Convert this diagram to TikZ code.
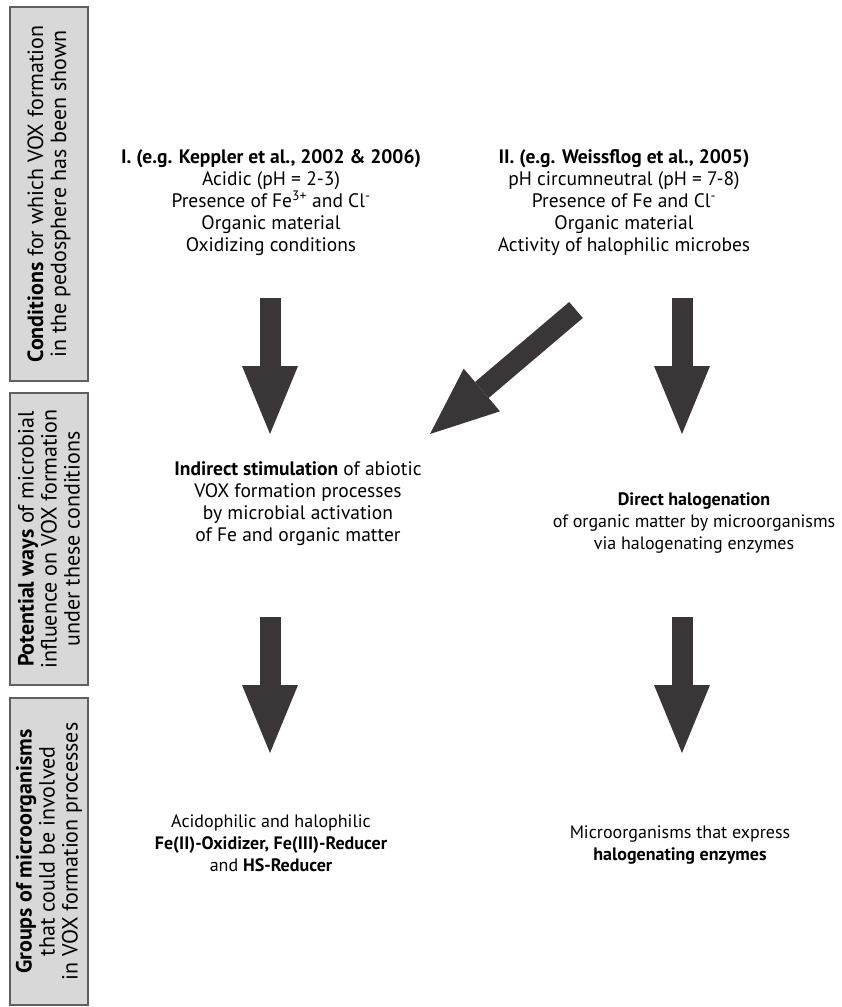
\documentclass[tikz,border=0pt]{standalone}
\usepackage{fontspec}
\setmainfont{PT Sans}
\usepackage{tikz}
\usetikzlibrary{arrows.meta, positioning}

\definecolor{arrowgray}{RGB}{58,54,55}
\definecolor{boxgray}{RGB}{216,216,216}
\definecolor{boxline}{RGB}{95,95,95}

\begin{document}
\begin{tikzpicture}[x=1pt,y=-1pt]
\tikzstyle{fatarrow}=[draw=arrowgray, line width=21pt, -{Triangle[length=68pt,width=56pt,line width=0pt 0 0]}]
\tikzstyle{sidebox}=[draw=boxline, fill=boxgray, line width=1.6pt, rotate=90, align=center,
                     inner sep=0pt, minimum height=78pt, font=\fontsize{22}{23}\selectfont]
\tikzstyle{txt}=[align=center, inner sep=0pt, font=\fontsize{19.5}{22}\selectfont]
\tikzstyle{smalltxt}=[txt, font=\fontsize{18}{22}\selectfont]

        \useasboundingbox (0,0) rectangle (842,1007);

        % left column boxes
        \node[sidebox, minimum width=374pt]  (cond)   at (49,194)  {\textbf{Conditions} for which VOX formation\\in the pedosphere has been shown};
        \node[sidebox, minimum width=292pt]  (ways)   at (49,539)  {\textbf{Potential ways} of microbial\\influence on VOX formation\\under these conditions};
        \node[sidebox, minimum width=307pt]  (groups) at (49,851.5){\textbf{Groups of microorganisms}\\that could be involved\\in VOX formation processes};

        % conditions
        \node[txt]  (condI)   at (271,203)  {\textbf{I. (e.g. Keppler et al., 2002 \& 2006)}\\Acidic (pH = 2-3)\\Presence of Fe\textsuperscript{3+} and Cl\textsuperscript{-}\\Organic material\\Oxidizing conditions};
        \node[txt]  (condII)  at (624,203)  {\textbf{II. (e.g. Weissflog et al., 2005)}\\pH circumneutral (pH = 7-8)\\Presence of Fe and Cl\textsuperscript{-}\\Organic material\\Activity of halophilic microbes};

        % ways
        \node[txt]       (indirect) at (298,504) {\textbf{Indirect stimulation} of abiotic\\VOX formation processes\\by microbial activation\\of Fe and organic matter};
        \node[smalltxt]  (direct)   at (694,523) {\textbf{Direct halogenation}\\of organic matter by microorganisms\\via halogenating enzymes};

        % groups
        \node[smalltxt]  (acido)    at (271,843) {Acidophilic and halophilic\\\textbf{Fe(II)-Oxidizer, Fe(III)-Reducer}\\and \textbf{HS-Reducer}};
        \node[smalltxt]  (enzymes)  at (680,845) {Microorganisms that express\\\textbf{halogenating enzymes}};

        % arrow ends
        \coordinate (tI)  at (270,298);   \coordinate (hI)  at (270,434);
        \coordinate (tII) at (682,298);   \coordinate (hII) at (682,434);
        \coordinate (tX)  at (576,310);   \coordinate (hX)  at (430,434);
        \coordinate (tL)  at (270,617);   \coordinate (hL)  at (270,753);
        \coordinate (tR)  at (682,617);   \coordinate (hR)  at (682,753);

        \draw[fatarrow] (tI)  -- (hI);
        \draw[fatarrow] (tII) -- (hII);
        \draw[fatarrow] (tX)  -- (hX);
        \draw[fatarrow] (tL)  -- (hL);
        \draw[fatarrow] (tR)  -- (hR);

\end{tikzpicture}
\end{document}
